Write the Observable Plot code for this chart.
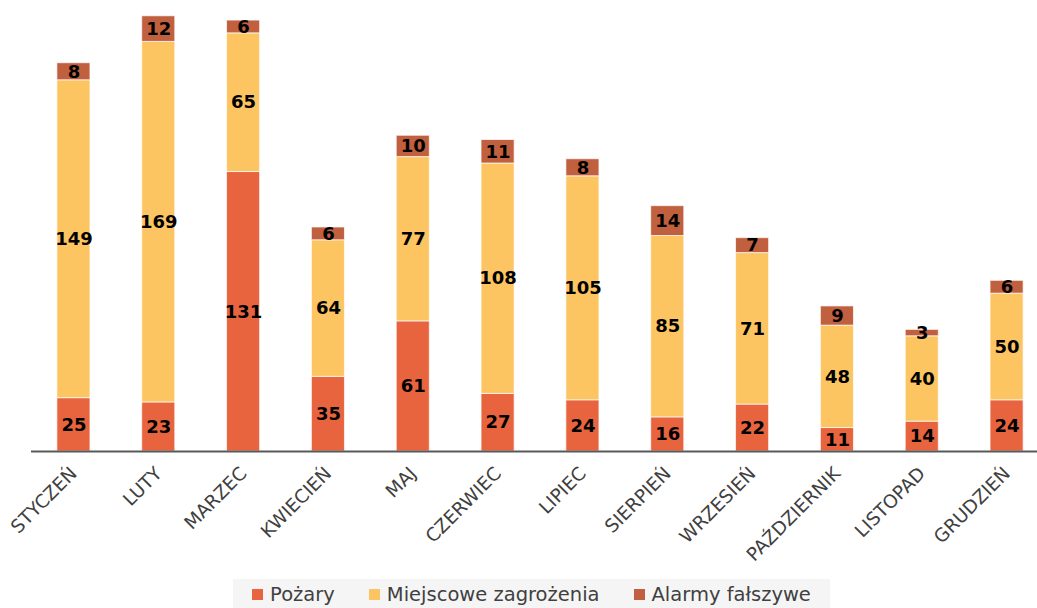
<!DOCTYPE html>
<html>
<head>
<meta charset="utf-8">
<script src="https://cdn.jsdelivr.net/npm/d3@7"></script>
<script src="https://cdn.jsdelivr.net/npm/@observablehq/plot@0.6"></script>
<style>
  html, body { margin: 0; padding: 0; background: #fff; }
  #wrap { width: 1037px; height: 608px; position: relative; overflow: hidden; font-family: "DejaVu Sans", sans-serif; }
  #legend { position: absolute; left: 233px; top: 579px; width: 597px; height: 31px; background: #f5f5f5;
    display: flex; align-items: center; justify-content: center; gap: 34px; font-size: 19.5px; color: #404040; }
  #legend span.sw { display: inline-block; width: 11px; height: 11px; margin-right: 7px; vertical-align: 1px; }
</style>
</head>
<body>
<div id="wrap">
  <div id="chart"></div>
  <div id="legend"></div>
</div>
<script>
const months = ["STYCZEŃ","LUTY","MARZEC","KWIECIEŃ","MAJ","CZERWIEC","LIPIEC","SIERPIEŃ","WRZESIEŃ","PAŹDZIERNIK","LISTOPAD","GRUDZIEŃ"];
const seriesNames = ["Pożary","Miejscowe zagrożenia","Alarmy fałszywe"];
const pozary = [25,23,131,35,61,27,24,16,22,11,14,24];
const miejscowe = [149,169,65,64,77,108,105,85,71,48,40,50];
const alarmy = [8,12,6,6,10,11,8,14,7,9,3,6];
const colors = ["#E8643F","#FDC562","#C0603F"];

const seriesValues = [pozary, miejscowe, alarmy];
const data = months.flatMap((m, i) => seriesNames.map((s, j) => ({month: m, series: s, value: seriesValues[j][i]})));

const plot = Plot.plot({
  width: 1037,
  height: 580,
  marginTop: 0,
  marginLeft: 31,
  marginRight: 0,
  marginBottom: 129,
  style: {fontFamily: "DejaVu Sans, sans-serif", background: "transparent"},
  x: {domain: months, range: [31, 1049], paddingInner: 0.61, paddingOuter: 0.305, round: false, label: null},
  y: {domain: [0, 211.4], axis: null},
  color: {domain: seriesNames, range: colors},
  marks: [
    Plot.barY(data, {x: "month", y: "value", fill: "series", stroke: "#ffffff", strokeWidth: 1, strokeOpacity: 0.7}),
    Plot.text(data, Plot.stackY({x: "month", y: "value", z: "series", text: d => String(d.value), fontSize: 18, fontWeight: "bold", fill: "#000"})),
    Plot.ruleY([0], {stroke: "#595959", strokeWidth: 2}),
    Plot.axisX({tickSize: 0, tickPadding: 19, tickRotate: -45, fontSize: 18.5, color: "#404040", label: null, dx: 0})
  ]
});
document.getElementById("chart").appendChild(plot);

const legend = document.getElementById("legend");
seriesNames.forEach((s, i) => {
  const item = document.createElement("div");
  item.innerHTML = `<span class="sw" style="background:${colors[i]}"></span>${s}`;
  legend.appendChild(item);
});
</script>
</body>
</html>
